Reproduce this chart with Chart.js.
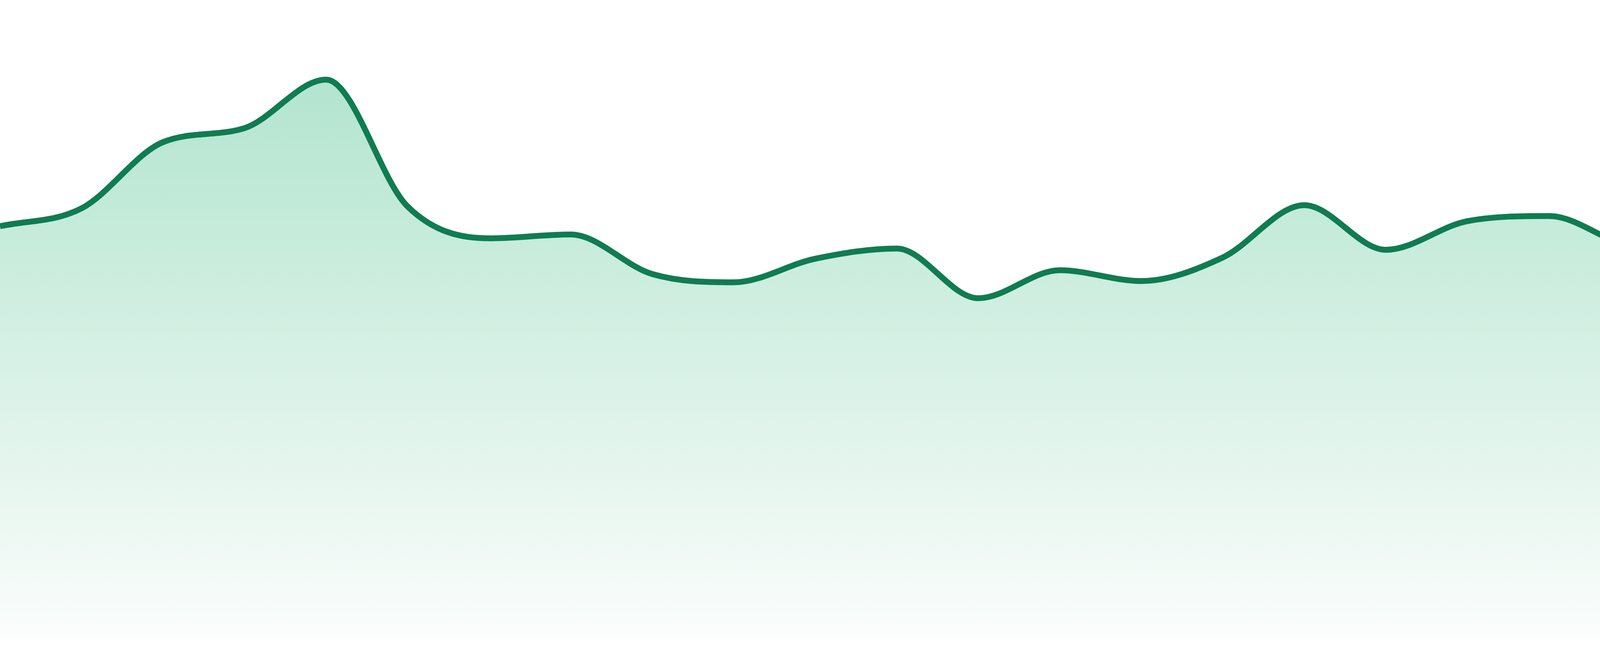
<!DOCTYPE html>
<html>
<head>
<meta charset="utf-8">
<script src="https://cdn.jsdelivr.net/npm/chart.js@4/dist/chart.umd.min.js"></script>
<style>
  html, body { margin: 0; padding: 0; background: #ffffff; }
  #wrap { width: 4800px; height: 1680px; position: relative; }
</style>
</head>
<body>
<div id="wrap"><canvas id="c"></canvas></div>
<script>
const categories = ['1','2','3','4','5','6','7','8','9','10','11','12','13','14','15','16','17','18','19','20','21','22','23','24'];
const seriesValues = [64.5, 67.3, 77.7, 79.9, 87.5, 67.6, 62.6, 63.2, 57.0, 55.7, 59.4, 61.0, 53.2, 57.6, 55.9, 59.6, 67.8, 60.8, 65.3, 66.1, 61.3, 60.4, 67.3, 62.0];
const yMin = 0;
const yMax = 100;

const ctx = document.getElementById('c').getContext('2d');

function fillGradient(context) {
  const chart = context.chart;
  const area = chart.chartArea;
  if (!area) return 'rgba(179,230,208,1)';
  const g = chart.ctx.createLinearGradient(0, area.top, 0, area.bottom);
  g.addColorStop(0, 'rgb(168,225,200)');
  g.addColorStop(1, 'rgb(251,253,252)');
  return g;
}

new Chart(ctx, {
  type: 'line',
  data: {
    labels: categories,
    datasets: [{
      data: seriesValues,
      borderColor: '#107c52',
      borderWidth: 15,
      backgroundColor: fillGradient,
      fill: 'origin',
      pointRadius: 0,
      pointHoverRadius: 0,
      cubicInterpolationMode: 'monotone'
    }]
  },
  options: {
    responsive: true,
    maintainAspectRatio: false,
    devicePixelRatio: 1,
    animation: false,
    layout: { padding: { left: 0, right: 0, top: 0, bottom: 48 } },
    plugins: { legend: { display: false }, tooltip: { enabled: false } },
    scales: {
      x: { display: false, offset: false },
      y: { display: false, min: yMin, max: yMax }
    }
  }
});
</script>
</body>
</html>
